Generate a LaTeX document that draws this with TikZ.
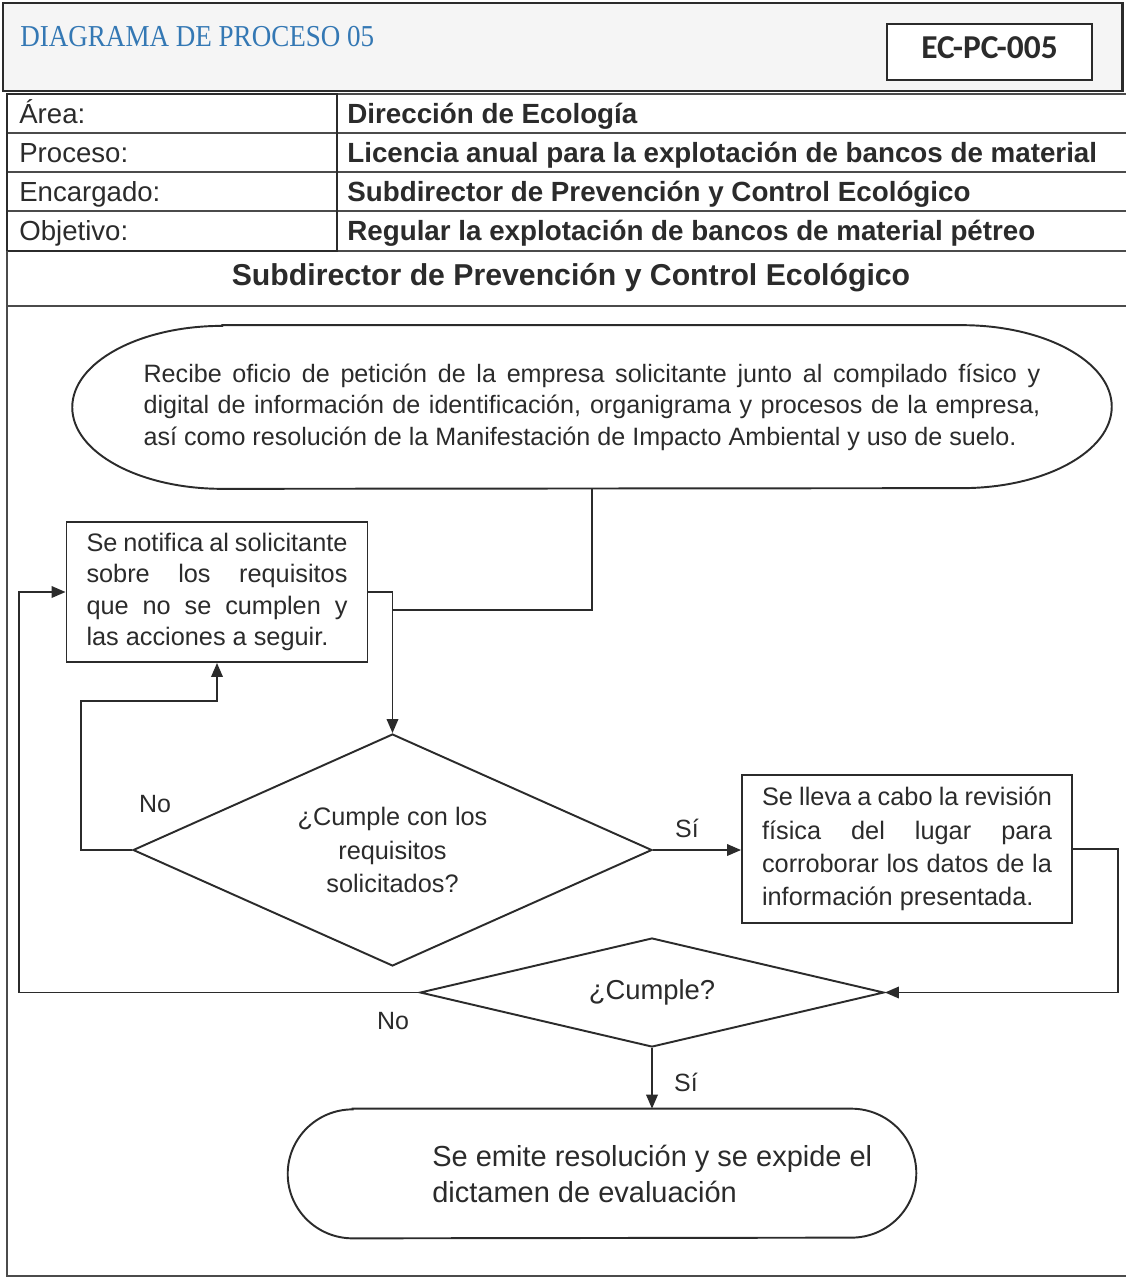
\documentclass[tikz,border=0pt]{standalone}
\usepackage{fontspec}
\setmainfont{Liberation Sans}
\newfontfamily\hdrfont[FakeStretch=0.89]{Liberation Serif}
\newfontfamily\codefont{Carlito}
\usetikzlibrary{arrows.meta,shapes.geometric}
\definecolor{ink}{HTML}{2B2B2B}
\definecolor{hblue}{RGB}{52,120,180}
\begin{document}
\begin{tikzpicture}[x=0.02cm,y=-0.02cm,
  every node/.style={text=ink},
  line/.style={draw=ink,line width=1.1pt},
  arr/.style={line,-{Triangle[length=0.28cm,width=0.23cm]}},
  frame/.style={draw=ink,line width=1.7pt},
  rule/.style={draw=ink!85,line width=1pt},
  lab/.style={anchor=base west,inner xsep=0pt,font=\fontsize{15.7}{18}\selectfont},
  val/.style={anchor=base west,inner xsep=0pt,font=\bfseries\fontsize{15.8}{18}\selectfont},
  procbox/.style={draw=ink,line width=1.1pt,rectangle,align=justify,inner xsep=0.4cm,inner ysep=0pt},
  decision/.style={diamond,draw=ink,line width=1.1pt,inner sep=0pt,align=center},
  flabel/.style={font=\fontsize{14.2}{16}\selectfont}
]
\useasboundingbox (0,0) rectangle (1126,1278);
\fill[white] (0,0) rectangle (1126,1278);

% header
\fill[gray!8] (3,3) rectangle (1122,91);
\draw[frame] (3,3) rectangle (1122,91);
\node[anchor=base west,inner xsep=0pt,text=hblue,font=\hdrfont\fontsize{17.3}{20}\selectfont] (htitle) at (20,46) {DIAGRAMA DE PROCESO 05};
\node[draw=ink,line width=1.1pt,fill=white,minimum width=4.1cm,minimum height=1.12cm,inner sep=0pt,text height=13pt,text depth=6pt,font=\codefont\bfseries\fontsize{19}{20}\selectfont] (code) at (989.5,52) {EC-PC-005};

% table
\draw[rule] (7,94) -- (1126,94);
\draw[rule] (337,133) -- (1126,133);
\draw[rule] (337,172) -- (1126,172);
\draw[rule] (337,211) -- (1126,211);
\draw[rule] (337,251) -- (1126,251);
\draw[rule] (7,133) -- (337,133);
\draw[rule] (7,172) -- (337,172);
\draw[rule] (7,211) -- (337,211);
\draw[frame] (7,94) rectangle (337,251);
\node[lab] (l1) at (19,123) {Área:};
\node[lab] (l2) at (19,162) {Proceso:};
\node[lab] (l3) at (19,201) {Encargado:};
\node[lab] (l4) at (19,240) {Objetivo:};
\node[val] (v1) at (347,123) {Dirección de Ecología};
\node[val] (v2) at (347,162) {Licencia anual para la explotación de bancos de material};
\node[val] (v3) at (347,201) {Subdirector de Prevención y Control Ecológico};
\node[val] (v4) at (347,240) {Regular la explotación de bancos de material pétreo};
\node[anchor=base,font=\bfseries\fontsize{17.2}{20}\selectfont] (lane) at (571,285) {Subdirector de Prevención y Control Ecológico};
\draw[rule] (7,306) -- (1126,306);
\draw[rule] (7,251) -- (7,1276) -- (1126,1276);

% start terminal
\node[minimum width=20.78cm,minimum height=3.26cm,inner sep=0pt,text width=17.94cm,align=justify,font=\fontsize{14.3}{17.9}\selectfont] (start) at (592,407) {Recibe oficio de petición de la empresa solicitante junto al compilado físico y\linebreak digital de información de identificación, organigrama y procesos de la empresa,\linebreak así como resolución de la Manifestación de Impacto Ambiental y uso de suelo.};
\draw[line] ([xshift=3cm]start.north west) -- ([xshift=-3cm]start.north east)
  arc[start angle=90,end angle=-90,x radius=3cm,y radius=1.63cm]
  -- ([xshift=3cm]start.south west)
  arc[start angle=270,end angle=90,x radius=3cm,y radius=1.63cm] -- cycle;

% process boxes
\node[procbox,minimum width=6cm,minimum height=2.8cm,text width=5.22cm,font=\fontsize{14.4}{17.8}\selectfont] (notif) at (217,592) {Se notifica al solicitante\linebreak sobre los requisitos\linebreak que no se cumplen y\linebreak las acciones a seguir.};
\node[procbox,minimum width=6.6cm,minimum height=2.96cm,text width=5.8cm,font=\fontsize{14.4}{19}\selectfont] (rev) at (907,849) {Se lleva a cabo la revisión\linebreak física del lugar para\linebreak corroborar los datos de la\linebreak información presentada.};

% decisions
\node[decision,minimum width=10.38cm,minimum height=4.64cm,aspect=2.24,font=\fontsize{14.4}{19.3}\selectfont] (d1) at (392.5,850) {¿Cumple con los\\requisitos\\solicitados?};
\node[decision,minimum width=9.28cm,minimum height=2.18cm,aspect=4.26,font=\fontsize{15.6}{18}\selectfont] (d2) at (652,992.5) {¿Cumple?};

% end terminal
\node[minimum width=12.56cm,minimum height=2.58cm,inner sep=0pt] (fin) at (602,1173.5) {};
\draw[line] ([xshift=1.3cm]fin.north west) -- ([xshift=-1.3cm]fin.north east)
  arc[start angle=90,end angle=-90,x radius=1.3cm,y radius=1.29cm]
  -- ([xshift=1.3cm]fin.south west)
  arc[start angle=270,end angle=90,x radius=1.3cm,y radius=1.29cm] -- cycle;
\node[anchor=west,align=left,inner sep=0pt,font=\fontsize{16.5}{20.5}\selectfont] (fintext) at (432,1174) {Se emite resolución y se expide el\\dictamen de evaluación};

% connectors
\coordinate (join) at (d1.north |- 0,610);
\draw[line] (start.south) |- (join);
\draw[arr] (notif.east) -| (d1.north);
\draw[arr] (d1.west) -- ++(-51,0) |- ([yshift=-0.76cm]notif.south) -- (notif.south);
\draw[arr] (d1.east) -- (d1.east -| rev.west);
\draw[arr] (rev.east) -- ++(45,0) |- (d2.east);
\draw[arr] (d2.west) -- ++(-400,0) |- (notif.west);
\draw[arr] (d2.south) -- (d2.south |- fin.north);

% labels
\node[flabel] (no1) at (155,804) {No};
\node[flabel] (si1) at (687,828) {Sí};
\node[flabel] (no2) at (393,1021) {No};
\node[flabel] (si2) at (686,1082) {Sí};
\end{tikzpicture}
\end{document}
